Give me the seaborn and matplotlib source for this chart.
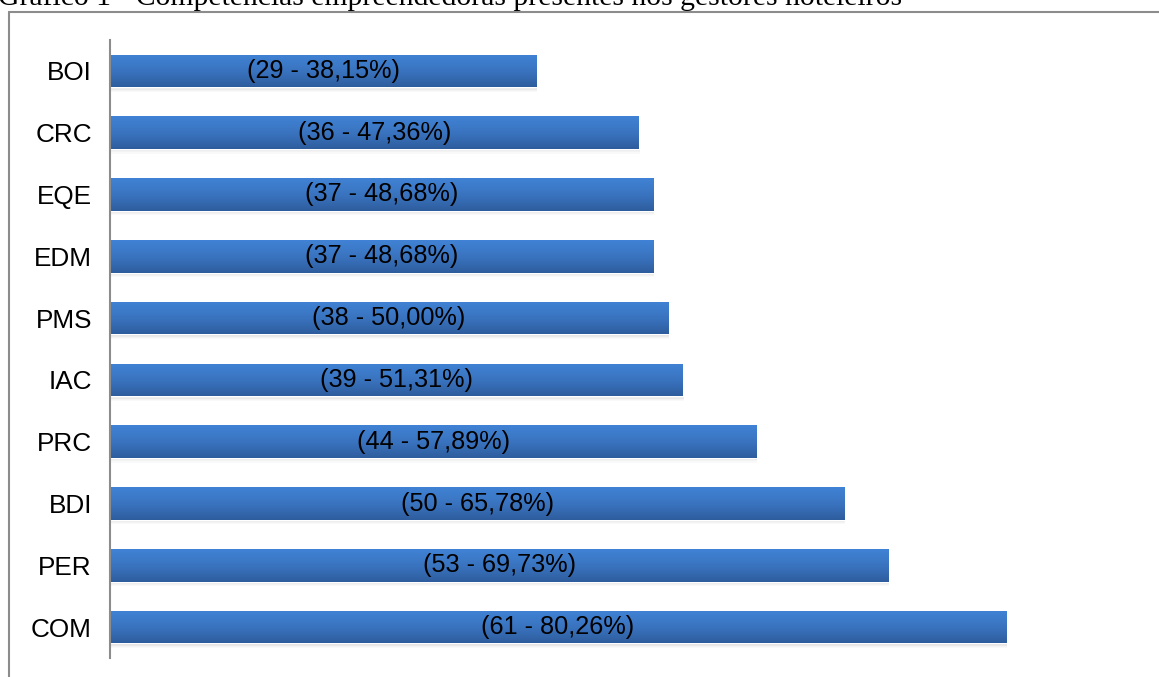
import matplotlib
matplotlib.use("Agg")
import matplotlib.pyplot as plt
import seaborn as sns
import numpy as np
import pandas as pd
from matplotlib.colors import LinearSegmentedColormap
from matplotlib.patches import Rectangle

categories = ["BOI", "CRC", "EQE", "EDM", "PMS", "IAC", "PRC", "BDI", "PER", "COM"]
counts = [29, 36, 37, 37, 38, 39, 44, 50, 53, 61]
labels = ["(29 - 38,15%)", "(36 - 47,36%)", "(37 - 48,68%)", "(37 - 48,68%)",
          "(38 - 50,00%)", "(39 - 51,31%)", "(44 - 57,89%)", "(50 - 65,78%)",
          "(53 - 69,73%)", "(61 - 80,26%)"]
title = "Gráfico 1 - Competências empreendedoras presentes nos gestores hoteleiros"

df = pd.DataFrame({"cat": categories, "n": counts})

sns.set_theme(style="white")
plt.rcParams["font.family"] = ["Liberation Sans", "DejaVu Sans"]

W, H = 1159, 677
fig = plt.figure(figsize=(W / 100, H / 100), dpi=100)
ax = fig.add_axes([110 / W, 1 - 658 / H, 1030 / W, 618 / H])

sns.barplot(data=df, y="cat", x="n", orient="h", order=categories,
            color="#3a74c4", width=0.53, ax=ax, saturation=1)

cmap = LinearSegmentedColormap.from_list("g", ["#4082d5", "#3a74c0", "#2e5d9e"])
grad = np.linspace(0, 1, 64).reshape(-1, 1)
for p in list(ax.patches):
    x0, y0 = p.get_x(), p.get_y()
    w, h = p.get_width(), p.get_height()
    # soft shadow below the bar
    for k, a in enumerate([0.18, 0.12, 0.07, 0.035]):
        ax.add_patch(Rectangle((x0 + 0.05, y0 + h + k * 0.018), w, 0.018,
                               facecolor="#555555", alpha=a, edgecolor="none",
                               zorder=1))
    im = ax.imshow(grad, cmap=cmap, aspect="auto",
                   extent=(x0, x0 + w, y0 + h, y0), zorder=2, interpolation="bicubic")
    im.set_clip_path(p)
    p.set_zorder(2)
ax.set_xlim(0, 1030 / 14.69)
ax.set_ylim(9.5, -0.5)

for i, (n, lab) in enumerate(zip(counts, labels)):
    ax.text(n / 2, i, lab, ha="center", va="center", fontsize=18.2,
            color="black", zorder=5)

ax.set_xlabel("")
ax.set_ylabel("")
ax.set_xticks([])
ax.tick_params(axis="y", length=0, pad=13, labelsize=18.8, labelcolor="black")
for s in ["top", "right", "bottom"]:
    ax.spines[s].set_visible(False)
ax.spines["left"].set_color("#8c8c8c")
ax.spines["left"].set_linewidth(1.5)

# outer frame (partially visible)
fig.add_artist(plt.Line2D([8.5 / W, 8.5 / W], [0, 1 - 11.5 / H], color="#8c8c8c",
                          lw=1.5, transform=fig.transFigure))
fig.add_artist(plt.Line2D([8.5 / W, 1], [1 - 11.5 / H, 1 - 11.5 / H], color="#8c8c8c",
                          lw=1.5, transform=fig.transFigure))

fig.text(-2 / W, 1 - 5 / H, title, ha="left", va="baseline", fontsize=21.3,
         family=["Liberation Serif", "DejaVu Serif"], color="black")

fig.savefig("out.png", dpi=100)
